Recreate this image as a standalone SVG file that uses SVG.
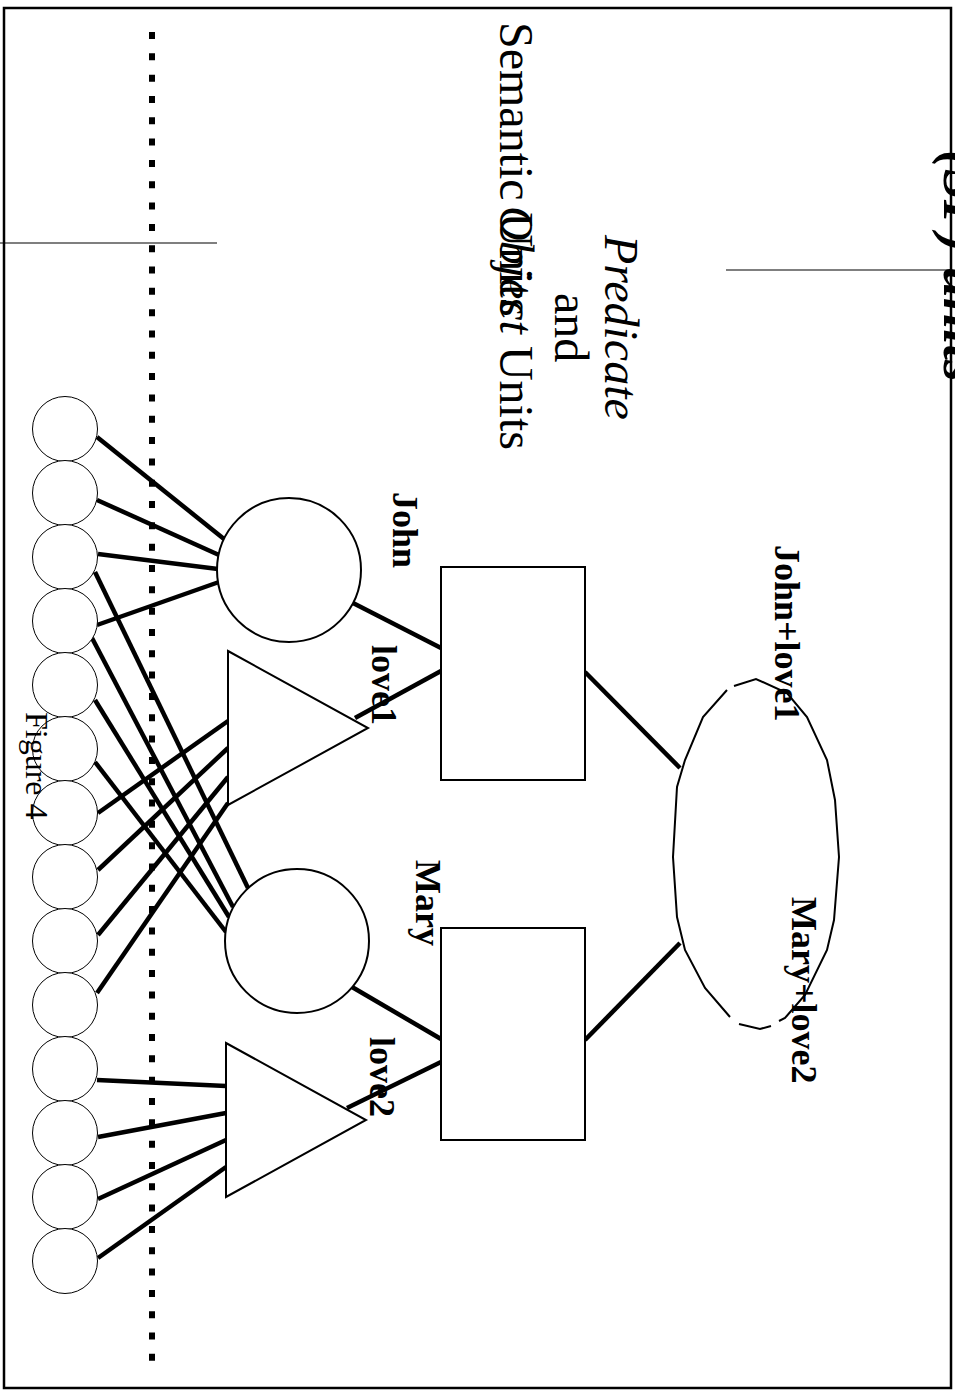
<svg xmlns="http://www.w3.org/2000/svg" width="955" height="1395" viewBox="0 0 955 1395">
<style>
.c{stroke:#000;stroke-width:4.5;fill:none;stroke-linecap:butt}
.n{fill:#fff;stroke:#000;stroke-width:2}
.s{fill:#fff;stroke:#000;stroke-width:1}
.t{font-family:"Liberation Serif","Times New Roman",serif;fill:#000}
.b{font-family:"Liberation Serif","Times New Roman",serif;font-weight:bold;font-size:36px;fill:#000}
.thin{stroke:#000;stroke-width:1.2}
</style>
<rect x="0" y="0" width="955" height="1395" fill="#fff"/>
<rect x="4" y="8" width="947" height="1380" fill="none" stroke="#000" stroke-width="2.5"/>
<line class="thin" x1="0" y1="243" x2="217" y2="243"/>
<line class="thin" x1="726" y1="270" x2="951" y2="270"/>
<line x1="152" y1="32" x2="152" y2="1361" stroke="#000" stroke-width="6" stroke-dasharray="7 14.32"/>
<g id="connectors">
<line class="c" x1="97" y1="437" x2="224" y2="539"/>
<line class="c" x1="97" y1="500" x2="219" y2="555"/>
<line class="c" x1="98" y1="554" x2="218" y2="569"/>
<line class="c" x1="97" y1="625" x2="219" y2="582"/>
<line class="c" x1="95" y1="572" x2="248" y2="888"/>
<line class="c" x1="92" y1="638" x2="233" y2="907"/>
<line class="c" x1="95" y1="700" x2="229" y2="917"/>
<line class="c" x1="95" y1="762" x2="226" y2="932"/>
<line class="c" x1="98" y1="813" x2="228" y2="721"/>
<line class="c" x1="98" y1="870" x2="228" y2="748"/>
<line class="c" x1="98" y1="935" x2="228" y2="777"/>
<line class="c" x1="97" y1="993" x2="228" y2="803"/>
<line class="c" x1="97" y1="1080" x2="226" y2="1086"/>
<line class="c" x1="98" y1="1137" x2="226" y2="1113"/>
<line class="c" x1="98" y1="1199" x2="226" y2="1140"/>
<line class="c" x1="98" y1="1258" x2="226" y2="1167"/>
<line class="c" x1="353" y1="603" x2="441" y2="648"/>
<line class="c" x1="355" y1="718" x2="441" y2="671"/>
<line class="c" x1="352" y1="987" x2="441" y2="1039"/>
<line class="c" x1="347" y1="1108" x2="441" y2="1062"/>
<line class="c" x1="585" y1="672" x2="680" y2="768"/>
<line class="c" x1="585" y1="1040" x2="680" y2="943"/>
</g>
<g id="inputs">
<circle class="s" cx="65" cy="429" r="32.5"/>
<circle class="s" cx="65" cy="493" r="32.5"/>
<circle class="s" cx="65" cy="557" r="32.5"/>
<circle class="s" cx="65" cy="621" r="32.5"/>
<circle class="s" cx="65" cy="685" r="32.5"/>
<circle class="s" cx="65" cy="749" r="32.5"/>
<circle class="s" cx="65" cy="813" r="32.5"/>
<circle class="s" cx="65" cy="877" r="32.5"/>
<circle class="s" cx="65" cy="941" r="32.5"/>
<circle class="s" cx="65" cy="1005" r="32.5"/>
<circle class="s" cx="65" cy="1069" r="32.5"/>
<circle class="s" cx="65" cy="1133" r="32.5"/>
<circle class="s" cx="65" cy="1197" r="32.5"/>
<circle class="s" cx="65" cy="1261" r="32.5"/>
</g>
<g id="john"><circle class="n" cx="289" cy="570" r="72"/></g>
<g id="mary"><circle class="n" cx="297" cy="941" r="72"/></g>
<g id="love1"><polygon class="n" points="228,651 368,728 228,805"/></g>
<g id="love2"><polygon class="n" points="226,1043 366,1120 226,1197"/></g>
<g id="john-love1"><rect class="n" x="441" y="567" width="144" height="213"/></g>
<g id="mary-love2"><rect class="n" x="441" y="928" width="144" height="212"/></g>
<g id="proposition">
<path fill="#fff" stroke="none" d="M756,679 L787,693 L807,717 L827,760 L835,800 L839,857 L834,920 L827,950 L805,995 L785,1018 L760,1029 L735,1023 L705,988 L685,950 L677,917 L673,857 L677,787 L685,760 L703,717 L731,687 Z"/>
<path fill="none" stroke="#000" stroke-width="2" d="M734,686 L756,679 L787,693 L807,717 L827,760 L835,800 L839,857 L834,920 L827,950 L805,995 L785,1018 L779,1021 M771,1026 L760,1029 L739,1024 M730,1017 L705,988 L685,950 L677,917 L673,857 L677,787 L685,760 L703,717 L727,690"/>
</g>
<g id="labels">
<text class="t" font-size="56" font-style="italic" font-weight="bold" transform="translate(944,150) rotate(90)">(SP) units</text>
<text class="t" font-size="48" font-style="italic" transform="translate(605,235) rotate(90)">Predicate</text>
<text class="t" font-size="48" transform="translate(555,293) rotate(90)">and</text>
<text class="t" font-size="48" transform="translate(500,22) rotate(90)">Semantic Units</text>
<text class="t" font-size="48" transform="translate(500,206) rotate(90)"><tspan font-style="italic">Object</tspan> Units</text>
<text class="b" transform="translate(393,492) rotate(90)">John</text>
<text class="b" transform="translate(372,645) rotate(90)">love1</text>
<text class="b" transform="translate(416,860) rotate(90)">Mary</text>
<text class="b" transform="translate(370,1037) rotate(90)">love2</text>
<text class="b" transform="translate(775,545) rotate(90)">John+love1</text>
<text class="b" transform="translate(792,897) rotate(90)">Mary+love2</text>
<text class="t" font-size="32" transform="translate(26,712) rotate(90)">Figure 4</text>
</g>
</svg>
